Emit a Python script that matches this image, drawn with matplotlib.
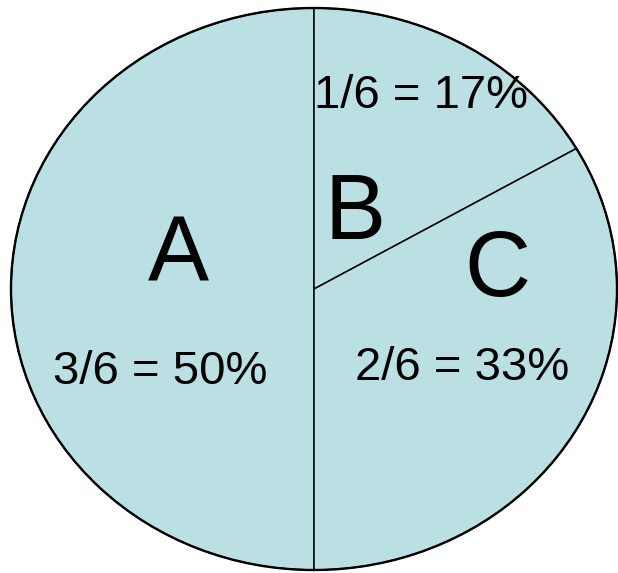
import matplotlib
matplotlib.use("Agg")
import matplotlib.pyplot as plt
from matplotlib.patches import Ellipse

labels = ["A", "B", "C"]
values = [3, 1, 2]
fractions = ["3/6 = 50%", "1/6 = 17%", "2/6 = 33%"]

W, H = 618, 573
fig = plt.figure(figsize=(W / 100, H / 100), dpi=100)
ax = fig.add_axes([0, 0, 1, 1])

ax.pie(values, startangle=270, counterclock=False, radius=1.0,
       colors=["#BBE0E3"] * 3,
       wedgeprops=dict(edgecolor="black", linewidth=1.1))
ax.add_patch(Ellipse((0, 0), 2, 2, fill=False, edgecolor="black", linewidth=1.7))
ax.set_aspect("auto")
cx, cy, rx, ry = 314, 289, 303, 281
ax.set_xlim(-cx / rx, (W - cx) / rx)
ax.set_ylim(-(H - cy) / ry, cy / ry)
ax.axis("off")

font = "Liberation Sans"
def px(x, y):
    return x / W, 1 - y / H

letter_pos = [(178, 258), (355, 215), (497, 272)]
frac_pos = [(160, 372), (421, 96), (462, 368)]
for lab, p in zip(labels, letter_pos):
    ax.text(*px(*p), lab, transform=ax.transAxes, ha="center", va="center",
            fontsize=66, family=font)
for fr, p in zip(fractions, frac_pos):
    ax.text(*px(*p), fr, transform=ax.transAxes, ha="center", va="center",
            fontsize=34, family=font)

fig.savefig("out.png", dpi=100)
